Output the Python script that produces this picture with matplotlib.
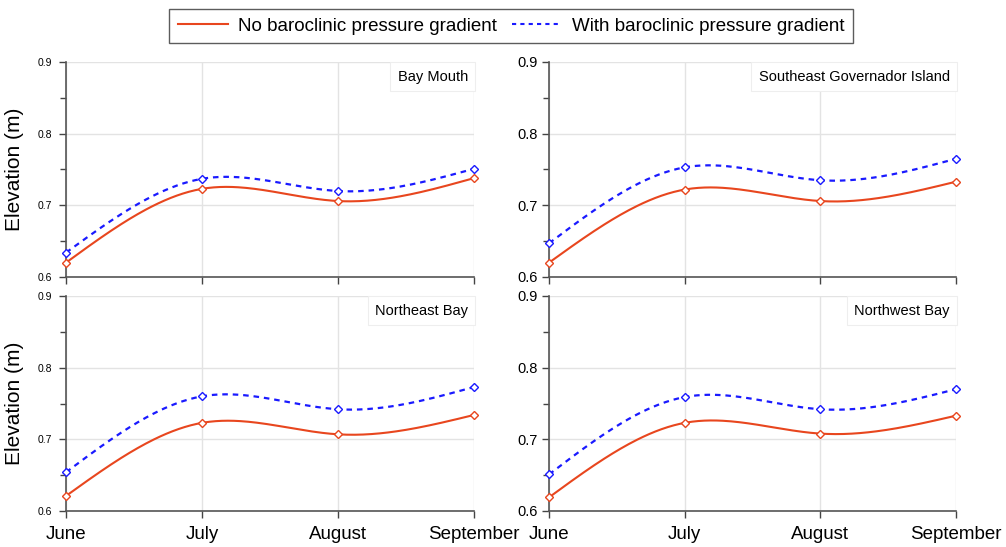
import numpy as np
import matplotlib
matplotlib.use("Agg")
import matplotlib.pyplot as plt
from matplotlib.lines import Line2D

plt.rcParams["font.family"] = ["Liberation Sans", "DejaVu Sans"]

months = ["June", "July", "August", "September"]
panels = ["Bay Mouth", "Southeast Governador Island", "Northeast Bay", "Northwest Bay"]

no_baro = [
    [0.620, 0.723, 0.706, 0.738],
    [0.620, 0.722, 0.706, 0.733],
    [0.621, 0.723, 0.707, 0.734],
    [0.619, 0.723, 0.708, 0.733],
]
with_baro = [
    [0.634, 0.737, 0.720, 0.751],
    [0.647, 0.753, 0.735, 0.765],
    [0.654, 0.760, 0.742, 0.773],
    [0.651, 0.759, 0.742, 0.770],
]

RED = "#e8461e"
BLUE = "#1a1aff"


def natural_spline(x, y, n=200):
    x = np.asarray(x, float)
    y = np.asarray(y, float)
    k = len(x)
    h = np.diff(x)
    A = np.zeros((k, k))
    b = np.zeros(k)
    A[0, 0] = 1
    A[-1, -1] = 1
    for i in range(1, k - 1):
        A[i, i - 1] = h[i - 1]
        A[i, i] = 2 * (h[i - 1] + h[i])
        A[i, i + 1] = h[i]
        b[i] = 3 * ((y[i + 1] - y[i]) / h[i] - (y[i] - y[i - 1]) / h[i - 1])
    c = np.linalg.solve(A, b)
    xs = np.linspace(x[0], x[-1], n)
    ys = np.empty_like(xs)
    for j, xv in enumerate(xs):
        i = min(np.searchsorted(x, xv, side="right") - 1, k - 2)
        dx = xv - x[i]
        bi = (y[i + 1] - y[i]) / h[i] - h[i] * (2 * c[i] + c[i + 1]) / 3
        di = (c[i + 1] - c[i]) / (3 * h[i])
        ys[j] = y[i] + bi * dx + c[i] * dx ** 2 + di * dx ** 3
    return xs, ys


fig = plt.figure(figsize=(10.06, 5.47), dpi=100)
W, H = 1006, 547
boxes = [
    (66, 62, 474, 277),
    (549, 62, 956, 277),
    (66, 296, 474, 511),
    (549, 296, 956, 511),
]

x = np.arange(len(months))
for idx, (x0, y0, x1, y1) in enumerate(boxes):
    ax = fig.add_axes([x0 / W, 1 - y1 / H, (x1 - x0) / W, (y1 - y0) / H])
    xs, ys = natural_spline(x, no_baro[idx])
    ax.plot(xs, ys, color=RED, lw=1.5, zorder=3)
    ax.plot(x, no_baro[idx], ls="none", marker="D", ms=4, mfc="white",
            mec=RED, mew=1.0, zorder=4, clip_on=False)
    xs, ys = natural_spline(x, with_baro[idx])
    ax.plot(xs, ys, color=BLUE, lw=1.6, ls=(0, (2.5, 2.2)), zorder=3)
    ax.plot(x, with_baro[idx], ls="none", marker="D", ms=4, mfc="white",
            mec=BLUE, mew=1.0, zorder=4, clip_on=False)

    ax.set_xlim(0, 3)
    ax.set_ylim(0.6, 0.9)
    ax.set_yticks([0.6, 0.7, 0.8, 0.9])
    ax.set_yticks([0.65, 0.75, 0.85], minor=True)
    ax.set_xticks(x)
    ax.grid(True, which="major", color="#e3e3e3", lw=1.0, zorder=0)
    ax.set_axisbelow(True)
    for s in ["top", "right"]:
        ax.spines[s].set_visible(False)
    for s in ["left", "bottom"]:
        ax.spines[s].set_color("#555555")
        ax.spines[s].set_linewidth(1.2)
    ax.tick_params(which="both", direction="out", color="#444444", length=5, width=1)
    ax.tick_params(which="minor", length=4)
    ax.set_yticklabels(["0.6", "0.7", "0.8", "0.9"])
    if idx % 2 == 0:
        ax.tick_params(axis="y", labelsize=7.5, pad=5)
        ax.set_ylabel("Elevation (m)", fontsize=15, labelpad=10)
    else:
        ax.tick_params(axis="y", labelsize=10.5, pad=3)
    if idx >= 2:
        ax.set_xticklabels(months, fontsize=13.5)
        ax.tick_params(axis="x", pad=6)
    else:
        ax.set_xticklabels([])
    ax.text(0.985, 0.965, panels[idx], transform=ax.transAxes, ha="right", va="top",
            fontsize=10.5, zorder=5,
            bbox=dict(boxstyle="square,pad=0.5", fc="white", ec="#eeeeee", lw=0.8))

handles = [
    Line2D([], [], color=RED, lw=1.5),
    Line2D([], [], color=BLUE, lw=1.5, ls=(0, (2, 2))),
]
leg = fig.legend(handles, ["No baroclinic pressure gradient", "With baroclinic pressure gradient"],
                 loc="center", bbox_to_anchor=(511 / W, 1 - 26 / H), ncol=2, fontsize=13.5,
                 frameon=True, fancybox=False, handlelength=2.7, columnspacing=0.8,
                 handletextpad=0.5, borderpad=0.45)
leg.get_frame().set_edgecolor("#333333")
leg.get_frame().set_linewidth(1.0)

fig.savefig("out.png", dpi=100)
